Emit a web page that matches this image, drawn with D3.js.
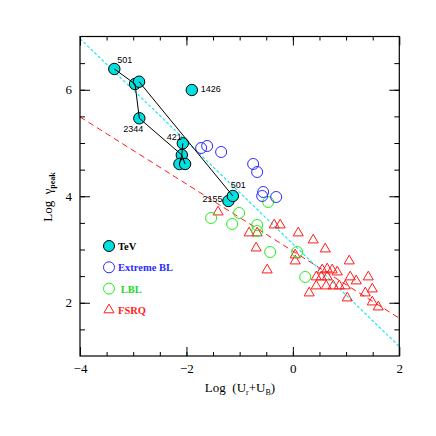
<!DOCTYPE html>
<html>
<head>
<meta charset="utf-8">
<script src="https://cdn.jsdelivr.net/npm/d3@7"></script>
<style>
  body { margin: 0; background: #fff; }
  svg text { font-family: "Liberation Serif", "DejaVu Serif", serif; }
</style>
</head>
<body>
<div id="chart"></div>
<script>
// log(Ur+UB), log gamma_peak
var tevX = [-3.355, -2.966, -2.890, -2.885, -1.899, -2.068, -2.087, -2.132, -2.025, -1.211, -1.128];
var tevY = [6.39, 6.108, 6.151, 5.464, 5.995, 4.994, 4.775, 4.606, 4.606, 3.911, 4.005];
var tevLinks = [[0, 1], [1, 3], [3, 6], [2, 10], [5, 6], [6, 7], [6, 8]];
var tevNames = [
    { i: 0, text: '501', dx: 3, dy: -6 },
    { i: 4, text: '1426', dx: 9, dy: 2 },
    { i: 3, text: '2344', dx: -16, dy: 14 },
    { i: 5, text: '421', dx: -16, dy: -3 },
    { i: 10, text: '501', dx: -2, dy: -8 },
    { i: 9, text: '2155', dx: -26, dy: 1 }
];

var xbX = [-1.724, -1.611, -1.348, -0.746, -0.671, -0.558, -0.577, -0.314];
var xbY = [4.906, 4.944, 4.831, 4.606, 4.455, 4.080, 4.005, 3.986];

var lblX = [-1.536, -1.010, -1.141, -0.671, -0.671, -0.427, 0.081, 0.232, -0.464];
var lblY = [3.592, 3.686, 3.479, 3.460, 3.347, 2.953, 2.953, 2.484, 3.892];

var fsrqX = [-1.405, -0.822, -0.671, -0.690, -0.483, -0.351, -0.238, 0.101, 0.382, 0.608,
             0.044, 0.044, 0.307, 1.059, 0.551, 0.645, 0.739, 0.833, 0.439, 0.533,
             0.645, 1.078, 1.191, 1.417, 0.439, 0.627, 0.758, 0.871, 0.984, 1.492,
             1.361, 1.022, 1.492, 1.605];
var fsrqY = [3.704, 3.310, 3.310, 3.028, 2.615, 3.460, 3.460, 3.310, 3.178, 3.009,
             2.897, 2.784, 2.183, 2.784, 2.615, 2.634, 2.615, 2.577, 2.484, 2.484,
             2.484, 2.484, 2.409, 2.484, 2.315, 2.315, 2.315, 2.315, 2.315, 2.258,
             2.183, 2.089, 2.014, 1.920];

// fitted lines: [x0, y0, x1, y1]
var cyanFit = [-4, 6.96, 2, 1.18];
var redFit = [-4, 5.49, 2, 1.71];

var legendItems = [
    { name: 'TeV', kind: 'tev', color: '#000' },
    { name: 'Extreme BL', kind: 'xbl', color: '#2b2bff' },
    { name: '\u00a0LBL', kind: 'lbl', color: '#22dd22' },
    { name: 'FSRQ', kind: 'fsrq', color: '#ff1a1a' }
];

var W = 436, H = 436;
var svg = d3.select('#chart').append('svg')
    .attr('width', W)
    .attr('height', H);

var x = d3.scaleLinear().domain([-4, 2]).range([80, 399.3]);
var y = d3.scaleLinear().domain([1, 7]).range([356, 36.5]);

var CYAN = '#00e0e0', BLUE = '#2b2bff', GREEN = '#22ee22', RED = '#ff1a1a';

var plot = svg.append('g');

plot.append('clipPath').attr('id', 'clip')
    .append('rect')
    .attr('x', x(-4)).attr('y', y(7))
    .attr('width', x(2) - x(-4)).attr('height', y(1) - y(7));

/* fit lines */
plot.append('line')
    .attr('clip-path', 'url(#clip)')
    .attr('x1', x(redFit[0])).attr('y1', y(redFit[1]))
    .attr('x2', x(redFit[2])).attr('y2', y(redFit[3]))
    .attr('stroke', RED).attr('stroke-width', 1)
    .attr('stroke-dasharray', '6,4');

plot.append('line')
    .attr('clip-path', 'url(#clip)')
    .attr('x1', x(cyanFit[0])).attr('y1', y(cyanFit[1]))
    .attr('x2', x(cyanFit[2])).attr('y2', y(cyanFit[3]))
    .attr('stroke', '#22e8e8').attr('stroke-width', 1.2)
    .attr('stroke-dasharray', '3,2');

var tri = d3.symbol().type(d3.symbolTriangle).size(44);

/* FSRQ */
plot.append('g').selectAll('path')
    .data(fsrqX)
    .enter().append('path')
    .attr('d', tri)
    .attr('transform', function(d, i) { return 'translate(' + x(d) + ',' + y(fsrqY[i]) + ')'; })
    .attr('fill', 'none')
    .attr('stroke', RED)
    .attr('stroke-width', 1);

/* LBL */
plot.append('g').selectAll('circle')
    .data(lblX)
    .enter().append('circle')
    .attr('cx', function(d) { return x(d); })
    .attr('cy', function(d, i) { return y(lblY[i]); })
    .attr('r', 5.5)
    .attr('fill', 'none')
    .attr('stroke', GREEN)
    .attr('stroke-width', 1);

/* extreme BL */
plot.append('g').selectAll('circle')
    .data(xbX)
    .enter().append('circle')
    .attr('cx', function(d) { return x(d); })
    .attr('cy', function(d, i) { return y(xbY[i]); })
    .attr('r', 5.5)
    .attr('fill', 'none')
    .attr('stroke', BLUE)
    .attr('stroke-width', 1);

/* TeV */
plot.append('g').selectAll('circle')
    .data(tevX)
    .enter().append('circle')
    .attr('cx', function(d) { return x(d); })
    .attr('cy', function(d, i) { return y(tevY[i]); })
    .attr('r', 5.7)
    .attr('fill', CYAN)
    .attr('stroke', '#000')
    .attr('stroke-width', 1);

plot.append('g').selectAll('line')
    .data(tevLinks)
    .enter().append('line')
    .attr('x1', function(d) { return x(tevX[d[0]]); })
    .attr('y1', function(d) { return y(tevY[d[0]]); })
    .attr('x2', function(d) { return x(tevX[d[1]]); })
    .attr('y2', function(d) { return y(tevY[d[1]]); })
    .attr('stroke', '#000')
    .attr('stroke-width', 1);

plot.append('g').selectAll('text')
    .data(tevNames)
    .enter().append('text')
    .attr('x', function(d) { return x(tevX[d.i]) + d.dx; })
    .attr('y', function(d) { return y(tevY[d.i]) + d.dy; })
    .style('font-family', '"Liberation Sans", Arial, sans-serif')
    .style('font-size', '9px')
    .text(function(d) { return d.text; });

/* axes: major ticks with labels, minor ticks without */
var majorX = [-4, -2, 0, 2], majorY = [2, 4, 6];
var minorX = d3.range(-3.5, 2, 0.5), minorY = d3.range(1.5, 7, 0.5);

var fmt = d3.format('d');

function styleAxis(g) {
    g.select('.domain').remove();
    g.selectAll('line').attr('stroke', '#000').attr('stroke-width', 1);
    g.selectAll('text')
        .style('font-family', '"Liberation Serif", serif')
        .style('font-size', '13px')
        .attr('fill', '#000');
}

svg.append('g').attr('transform', 'translate(0,' + y(1) + ')')
    .call(d3.axisBottom(x).tickValues(majorX).tickFormat(fmt).tickSizeInner(-9).tickSizeOuter(0).tickPadding(8))
    .call(styleAxis);
svg.append('g').attr('transform', 'translate(0,' + y(1) + ')')
    .call(d3.axisBottom(x).tickValues(minorX).tickFormat('').tickSizeInner(-4).tickSizeOuter(0))
    .call(styleAxis);
svg.append('g').attr('transform', 'translate(0,' + y(7) + ')')
    .call(d3.axisTop(x).tickValues(majorX).tickFormat('').tickSizeInner(-9).tickSizeOuter(0))
    .call(styleAxis);
svg.append('g').attr('transform', 'translate(0,' + y(7) + ')')
    .call(d3.axisTop(x).tickValues(minorX).tickFormat('').tickSizeInner(-4).tickSizeOuter(0))
    .call(styleAxis);

svg.append('g').attr('transform', 'translate(' + x(-4) + ',0)')
    .call(d3.axisLeft(y).tickValues(majorY).tickFormat(fmt).tickSizeInner(-10).tickSizeOuter(0).tickPadding(8))
    .call(styleAxis);
svg.append('g').attr('transform', 'translate(' + x(-4) + ',0)')
    .call(d3.axisLeft(y).tickValues(minorY).tickFormat('').tickSizeInner(-5).tickSizeOuter(0))
    .call(styleAxis);
svg.append('g').attr('transform', 'translate(' + x(2) + ',0)')
    .call(d3.axisRight(y).tickValues(majorY).tickFormat('').tickSizeInner(-10).tickSizeOuter(0))
    .call(styleAxis);
svg.append('g').attr('transform', 'translate(' + x(2) + ',0)')
    .call(d3.axisRight(y).tickValues(minorY).tickFormat('').tickSizeInner(-5).tickSizeOuter(0))
    .call(styleAxis);

svg.append('rect')
    .attr('x', x(-4)).attr('y', y(7))
    .attr('width', x(2) - x(-4)).attr('height', y(1) - y(7))
    .attr('fill', 'none')
    .attr('stroke', '#000')
    .attr('stroke-width', 1.2);

/* axis titles */
var xt = svg.append('text')
    .attr('x', 240).attr('y', 392)
    .attr('text-anchor', 'middle')
    .style('font-size', '13px');
xt.append('tspan').text('Log\u00a0\u00a0(U');
xt.append('tspan').attr('dy', 3).style('font-size', '8px').text('r');
xt.append('tspan').attr('dy', -3).text('+U');
xt.append('tspan').attr('dy', 3).style('font-size', '8px').text('B');
xt.append('tspan').attr('dy', -3).text(')');

var yt = svg.append('text')
    .attr('transform', 'translate(52,197) rotate(-90)')
    .attr('text-anchor', 'middle')
    .style('font-size', '13px');
yt.append('tspan').text('Log\u00a0\u00a0\u03b3');
yt.append('tspan').attr('dy', 3).style('font-size', '8px').style('font-weight', 'bold').text('peak');

/* legend */
var legend = svg.append('g').attr('transform', 'translate(109,246)');
var rows = legend.selectAll('g')
    .data(legendItems)
    .enter().append('g')
    .attr('transform', function(d, i) { return 'translate(0,' + (i * 21.3) + ')'; });

rows.each(function(d) {
    var g = d3.select(this);
    if (d.kind === 'fsrq') {
        g.append('path').attr('d', tri).attr('fill', 'none').attr('stroke', RED);
    } else {
        g.append('circle').attr('r', 5.5)
            .attr('fill', d.kind === 'tev' ? CYAN : 'none')
            .attr('stroke', d.kind === 'tev' ? '#000' : (d.kind === 'xbl' ? BLUE : GREEN));
    }
    g.append('text')
        .attr('x', 9).attr('y', 4)
        .attr('fill', d.color)
        .style('font-size', '10.5px')
        .style('font-weight', 'bold')
        .text(d.name);
});
</script>
</body>
</html>
